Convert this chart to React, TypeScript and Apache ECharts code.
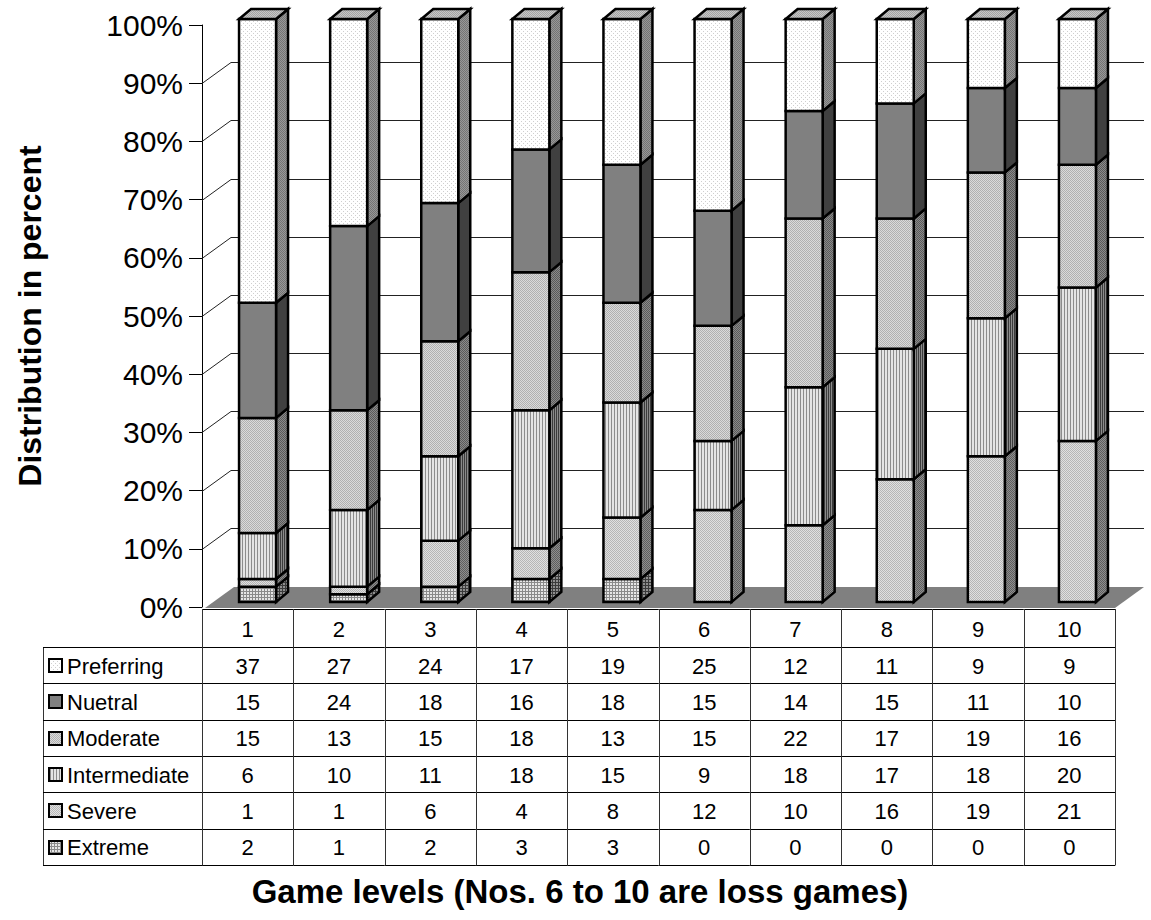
import React, { useEffect, useRef } from 'react';
import * as echarts from 'echarts';

// ---- data ----
const levels = ['1', '2', '3', '4', '5', '6', '7', '8', '9', '10'];
const preferring = [37, 27, 24, 17, 19, 25, 12, 11, 9, 9];
const nuetral = [15, 24, 18, 16, 18, 15, 14, 15, 11, 10];
const moderate = [15, 13, 15, 18, 13, 15, 22, 17, 19, 16];
const intermediate = [6, 10, 11, 18, 15, 9, 18, 17, 18, 20];
const severe = [1, 1, 6, 4, 8, 12, 10, 16, 19, 21];
const extreme = [2, 1, 2, 3, 3, 0, 0, 0, 0, 0];
const percentTicks = [0, 10, 20, 30, 40, 50, 60, 70, 80, 90, 100];

const xTitle = 'Game levels (Nos. 6 to 10 are loss games)';
const yTitle = 'Distribution in percent';

// ---- layout ----
const FONT = '"Liberation Sans", Arial, Helvetica, sans-serif';
const AXIS_GRID = { left: 202, top: 25, width: 913, height: 582 };
const BAR_GRID = { left: 212, top: 19, width: 911, height: 583 };
const WALL_DX = 29;
const WALL_DY = -21;
const BOX_DX = 12;
const BOX_DY = -10;
const FRONT_W = 37;
const TABLE_TOP = 609;
const HEADER_H = 38;
const ROW_H = 36.3;
const LABEL_LEFT = 43;
const TABLE_FONT = `22px ${FONT}`;

const crisp = (v: number) => Math.round(v) + 0.5;

// small pixel tiles used as fill patterns
function tile(rows: string[], palette: Record<string, string>) {
  const h = rows.length;
  const w = rows[0].length;
  const c = document.createElement('canvas');
  c.width = w;
  c.height = h;
  const ctx = c.getContext('2d')!;
  rows.forEach((r, y) => {
    r.split('').forEach((ch, x) => {
      ctx.fillStyle = palette[ch];
      ctx.fillRect(x, y, 1, 1);
    });
  });
  return { image: c.toDataURL(), repeat: 'repeat', imageWidth: w, imageHeight: h } as any;
}

function buildStyles() {
  return {
    Preferring: {
      front: tile(['wwww', 'wdww', 'wwww', 'wwwd'], { w: '#ffffff', d: '#cfcfcf' }),
      side: tile(['ab', 'ba'], { a: '#747474', b: '#979797' }),
      top: tile(['ab', 'ba'], { a: '#a4a4a4', b: '#c6c6c6' }),
    },
    Nuetral: { front: '#808080', side: '#404040', top: '#a0a0a0' },
    Moderate: {
      front: tile(['ab', 'ba'], { a: '#b0b0b0', b: '#dadada' }),
      side: tile(['ab', 'ba'], { a: '#5a5a5a', b: '#8a8a8a' }),
      top: '#c0c0c0',
    },
    Intermediate: {
      front: tile(['aab'], { a: '#e4e4e4', b: '#8c8c8c' }),
      side: tile(['ab'], { a: '#3c3c3c', b: '#8a8a8a' }),
      top: '#c0c0c0',
    },
    Severe: {
      front: tile(['ab', 'ba'], { a: '#b6b6b6', b: '#e0e0e0' }),
      side: tile(['ab', 'ba'], { a: '#5e5e5e', b: '#8e8e8e' }),
      top: '#c0c0c0',
    },
    Extreme: {
      front: tile(['aaa', 'abb', 'abb'], { a: '#8a8a8a', b: '#e6e6e6' }),
      side: tile(['aaa', 'abb', 'abb'], { a: '#3a3a3a', b: '#8e8e8e' }),
      top: '#c0c0c0',
    },
  } as Record<string, { front: any; side: any; top: any }>;
}

function buildOption() {
  const styles = buildStyles();

  // stacking order, bottom to top
  const stack = [
    { name: 'Extreme', values: extreme },
    { name: 'Severe', values: severe },
    { name: 'Intermediate', values: intermediate },
    { name: 'Moderate', values: moderate },
    { name: 'Nuetral', values: nuetral },
    { name: 'Preferring', values: preferring },
  ];
  // table rows, top to bottom
  const tableRows = [...stack].reverse();

  const totals = levels.map((_, i) => stack.reduce((s, d) => s + d.values[i], 0));
  const running = levels.map(() => 0);

  const barSeries = stack.map((d) => {
    const data = d.values.map((v, i) => {
      const lo = (running[i] / totals[i]) * 100;
      running[i] += v;
      const hi = (running[i] / totals[i]) * 100;
      return [i, lo, hi];
    });
    const st = styles[d.name];
    return {
      type: 'custom',
      name: d.name,
      xAxisIndex: 1,
      yAxisIndex: 1,
      z: 3,
      data,
      renderItem: (params: any, api: any) => {
        const ci = api.value(0);
        const lo = api.value(1);
        const hi = api.value(2);
        if (hi - lo <= 1e-9) return null;
        const pLo = api.coord([ci, lo]);
        const pHi = api.coord([ci, hi]);
        const x0 = pLo[0] - FRONT_W / 2;
        const x1 = pLo[0] + FRONT_W / 2;
        const yb = pLo[1];
        const yt = pHi[1];
        const stroke = { stroke: '#000', lineWidth: 2.5, lineJoin: 'miter' };
        const children: any[] = [
          {
            type: 'polygon',
            shape: { points: [[x1, yb], [x1 + BOX_DX, yb + BOX_DY], [x1 + BOX_DX, yt + BOX_DY], [x1, yt]] },
            style: { fill: st.side, ...stroke },
          },
          {
            type: 'polygon',
            shape: { points: [[x0, yb], [x1, yb], [x1, yt], [x0, yt]] },
            style: { fill: st.front, ...stroke },
          },
        ];
        if (hi >= 99.999) {
          children.push({
            type: 'polygon',
            shape: { points: [[x0, yt], [x1, yt], [x1 + BOX_DX, yt + BOX_DY], [x0 + BOX_DX, yt + BOX_DY]] },
            style: { fill: st.top, ...stroke },
          });
        }
        return { type: 'group', children };
      },
    };
  });

  // back-wall gridlines with the diagonal on the side wall
  const wallSeries = {
    type: 'custom',
    xAxisIndex: 0,
    yAxisIndex: 0,
    z: 1,
    data: percentTicks.filter((v) => v > 0 && v < 100).map((v) => [0, v]),
    renderItem: (params: any, api: any) => {
      const cs = params.coordSys;
      const y = api.coord([0, api.value(1)])[1];
      const xl = cs.x;
      const xr = cs.x + cs.width;
      return {
        type: 'polyline',
        shape: {
          points: [
            [xl, crisp(y)],
            [xl + WALL_DX, crisp(y + WALL_DY)],
            [xr + WALL_DX, crisp(y + WALL_DY)],
          ],
        },
        style: { stroke: '#222', lineWidth: 1, fill: 'none' },
      };
    },
  };

  // grey floor under the columns
  const floorSeries = {
    type: 'custom',
    xAxisIndex: 0,
    yAxisIndex: 0,
    z: 2,
    data: [[0, 0]],
    renderItem: (params: any, api: any) => {
      const cs = params.coordSys;
      const y = api.coord([0, 0])[1] + 1;
      const xl = cs.x + 3;
      const xr = cs.x + cs.width;
      return {
        type: 'polygon',
        shape: {
          points: [
            [xl, y],
            [xl + WALL_DX, y + WALL_DY],
            [xr + WALL_DX, y + WALL_DY],
            [xr, y],
          ],
        },
        style: { fill: '#808080' },
      };
    },
  };

  // data table columns aligned with the level axis
  const tableBottom = TABLE_TOP + HEADER_H + ROW_H * tableRows.length;
  const tableSeries = {
    type: 'custom',
    xAxisIndex: 0,
    yAxisIndex: 0,
    z: 4,
    data: levels.map((_, i) => [i, 0]),
    renderItem: (params: any, api: any) => {
      const ci = api.value(0);
      const cx = api.coord([ci, 0])[0];
      const bw = api.size([1, 0])[0];
      const left = cx - bw / 2;
      const right = cx + bw / 2;
      const children: any[] = [];
      const hLine = (y: number) => ({
        type: 'line',
        shape: { x1: left, y1: crisp(y), x2: right, y2: crisp(y) },
        style: { stroke: '#000', lineWidth: 1 },
      });
      const vLine = (x: number) => ({
        type: 'line',
        shape: { x1: crisp(x), y1: TABLE_TOP, x2: crisp(x), y2: crisp(tableBottom) },
        style: { stroke: '#333', lineWidth: 1 },
      });
      children.push(hLine(TABLE_TOP));
      for (let r = 0; r <= tableRows.length; r++) children.push(hLine(TABLE_TOP + HEADER_H + r * ROW_H));
      children.push(vLine(left));
      if (ci === levels.length - 1) children.push(vLine(right));
      children.push({
        type: 'text',
        style: {
          text: levels[ci],
          x: cx,
          y: TABLE_TOP + HEADER_H / 2 + 1,
          align: 'center',
          verticalAlign: 'middle',
          font: TABLE_FONT,
          fill: '#000',
        },
      });
      tableRows.forEach((row, r) => {
        children.push({
          type: 'text',
          style: {
            text: String(row.values[ci]),
            x: cx,
            y: TABLE_TOP + HEADER_H + r * ROW_H + ROW_H / 2 + 1,
            align: 'center',
            verticalAlign: 'middle',
            font: TABLE_FONT,
            fill: '#000',
          },
        });
      });
      return { type: 'group', children };
    },
  };

  // row headers of the table: legend key and series name
  const rowHeader: any[] = [];
  const firstRowTop = TABLE_TOP + HEADER_H;
  rowHeader.push({
    type: 'line',
    shape: { x1: crisp(LABEL_LEFT), y1: firstRowTop, x2: crisp(LABEL_LEFT), y2: crisp(tableBottom) },
    style: { stroke: '#333', lineWidth: 1 },
  });
  for (let r = 0; r <= tableRows.length; r++) {
    const y = crisp(firstRowTop + r * ROW_H);
    rowHeader.push({
      type: 'line',
      shape: { x1: LABEL_LEFT, y1: y, x2: AXIS_GRID.left, y2: y },
      style: { stroke: '#000', lineWidth: 1 },
    });
  }
  tableRows.forEach((row, r) => {
    const cy = firstRowTop + r * ROW_H + ROW_H / 2;
    rowHeader.push({
      type: 'rect',
      shape: { x: 49, y: Math.round(cy - 6), width: 13, height: 13 },
      style: { fill: styles[row.name].front, stroke: '#000', lineWidth: 2 },
    });
    rowHeader.push({
      type: 'text',
      x: 67,
      y: cy + 1,
      style: { text: row.name, align: 'left', verticalAlign: 'middle', font: TABLE_FONT, fill: '#000' },
    });
  });

  return {
    animation: false,
    backgroundColor: '#ffffff',
    grid: [
      { ...AXIS_GRID, containLabel: false },
      { ...BAR_GRID, containLabel: false },
    ],
    xAxis: [
      { type: 'category', gridIndex: 0, data: levels, show: false },
      { type: 'category', gridIndex: 1, data: levels, show: false },
    ],
    yAxis: [
      {
        type: 'value',
        gridIndex: 0,
        min: 0,
        max: 100,
        interval: 10,
        axisLine: { show: true, lineStyle: { color: '#000', width: 1 } },
        axisTick: { show: true, length: 13, lineStyle: { color: '#000', width: 1 } },
        axisLabel: {
          formatter: '{value}%',
          fontSize: 30,
          fontFamily: FONT,
          color: '#000',
          margin: 19,
        },
        splitLine: { show: false },
      },
      { type: 'value', gridIndex: 1, min: 0, max: 100, show: false },
    ],
    series: [wallSeries, floorSeries, ...barSeries, tableSeries],
    graphic: [
      ...rowHeader,
      {
        type: 'text',
        x: 580,
        y: 891,
        style: {
          text: xTitle,
          align: 'center',
          verticalAlign: 'middle',
          font: `bold 33px ${FONT}`,
          fill: '#000',
        },
      },
      {
        type: 'text',
        x: 30,
        y: 316,
        rotation: Math.PI / 2,
        style: {
          text: yTitle,
          align: 'center',
          verticalAlign: 'middle',
          font: `bold 32px ${FONT}`,
          fill: '#000',
        },
      },
    ],
  };
}

export default function App() {
  const ref = useRef<HTMLDivElement>(null);
  useEffect(() => {
    document.body.style.margin = '0';
    const chart = echarts.init(ref.current!, null, { renderer: 'svg' });
    chart.setOption(buildOption() as any);
    return () => chart.dispose();
  }, []);
  return <div ref={ref} style={{ width: 1151, height: 920 }} />;
}
